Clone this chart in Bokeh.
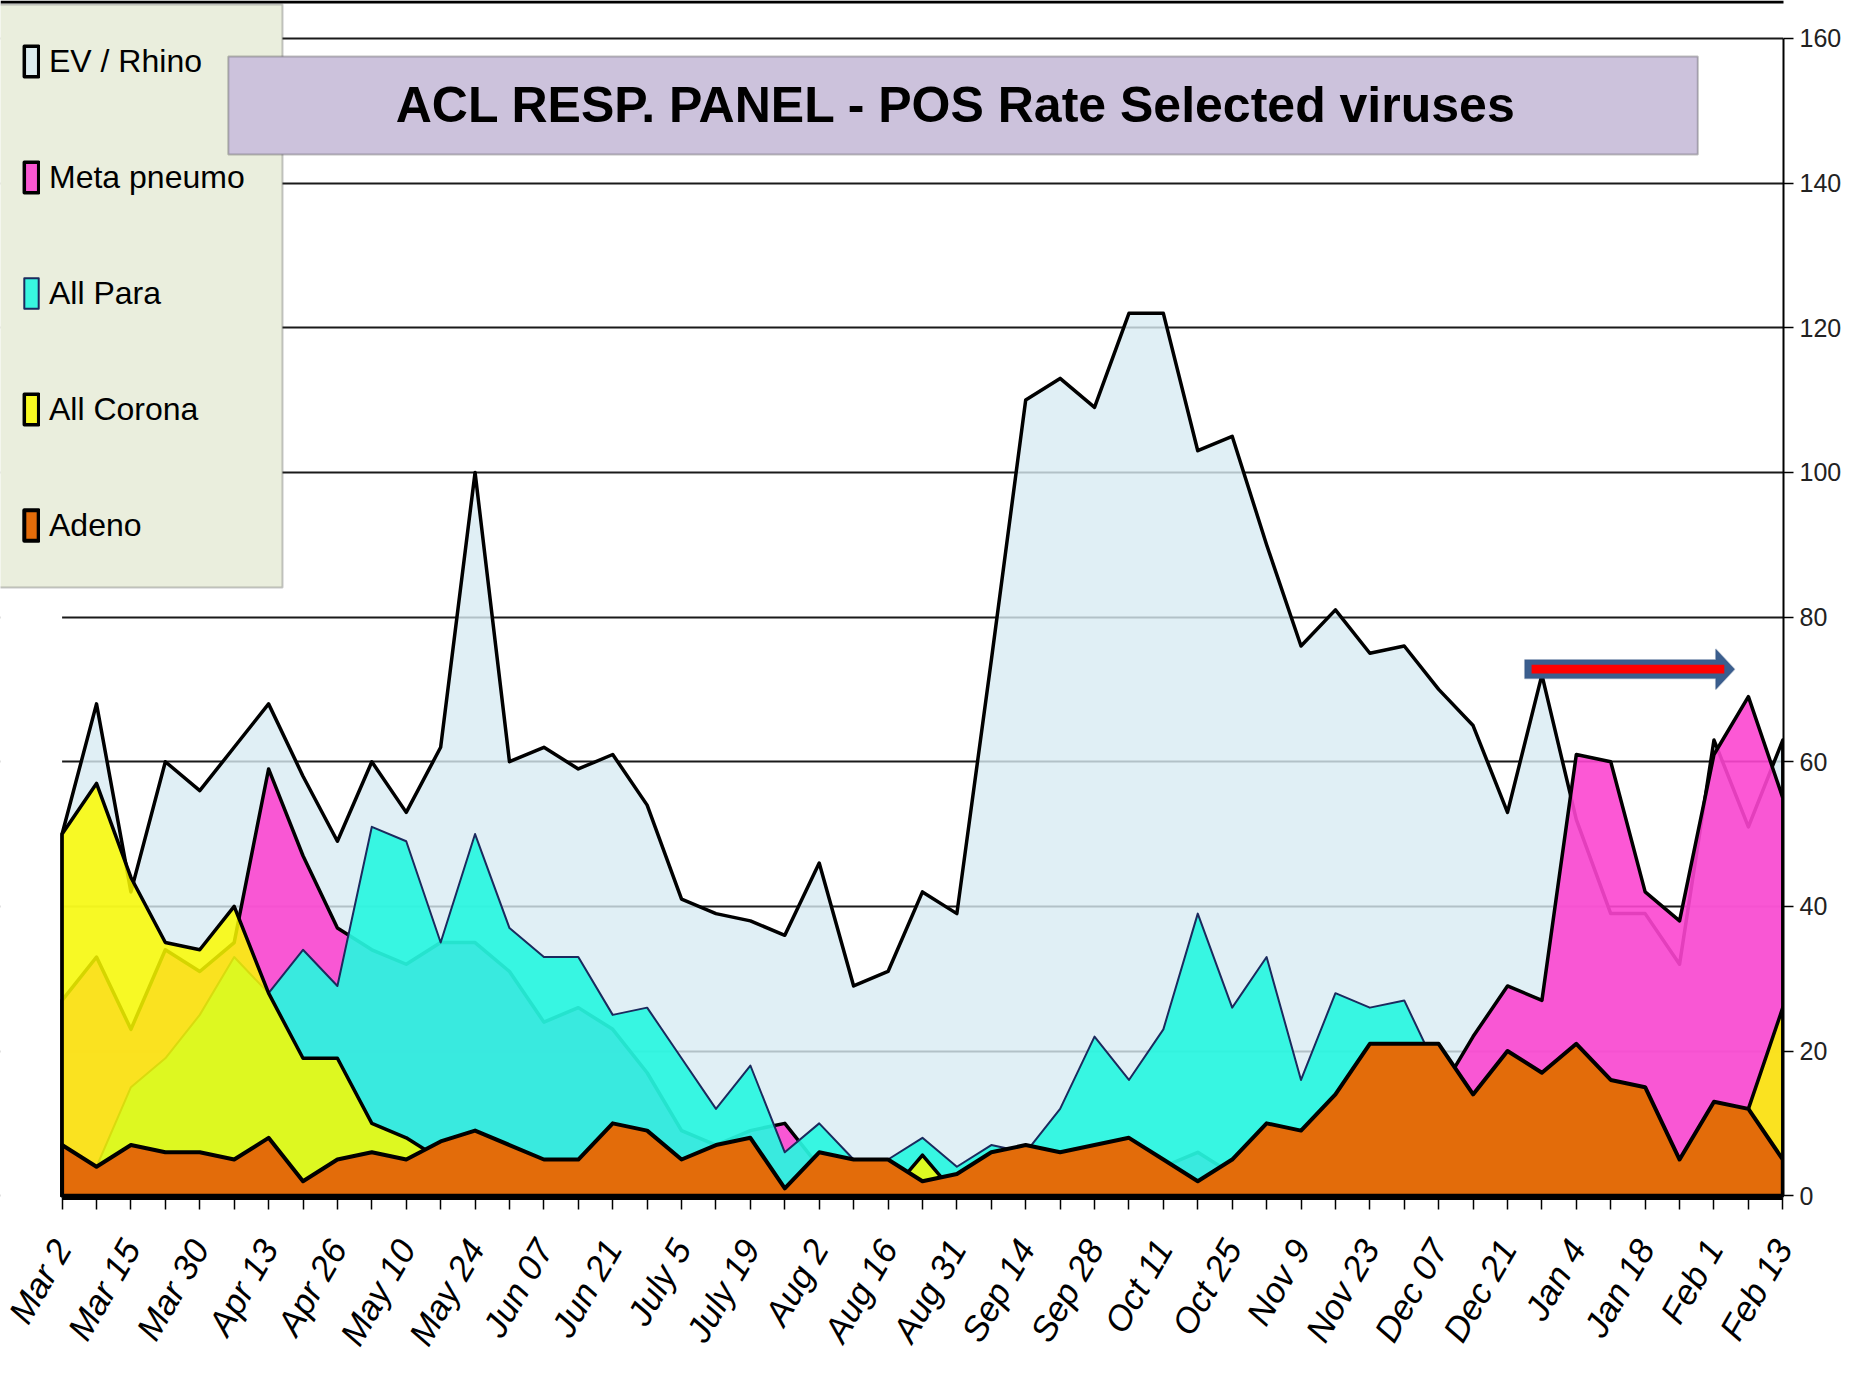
import math
from bokeh.plotting import figure
from bokeh.models import (Range1d, FixedTicker, Legend, LegendItem,
                          BoxAnnotation, Label, PolyAnnotation)
from bokeh.embed import file_html
from bokeh.resources import INLINE

SANS = "Liberation Sans"

# ---------------- data ----------------
weeks = list(range(51))
date_labels = ["Mar 2", "Mar 15", "Mar 30", "Apr 13", "Apr 26", "May 10", "May 24",
               "Jun 07", "Jun 21", "July 5", "July 19", "Aug 2", "Aug 16", "Aug 31",
               "Sep 14", "Sep 28", "Oct 11", "Oct 25", "Nov 9", "Nov 23", "Dec 07",
               "Dec 21", "Jan 4", "Jan 18", "Feb 1", "Feb 13"]
y_ticks = [0, 20, 40, 60, 80, 100, 120, 140, 160]

ev_rhino = [50, 68, 42, 60, 56, 62, 68, 58, 49, 60, 53, 62, 100, 60, 62, 59, 61,
            54, 41, 39, 38, 36, 46, 29, 31, 42, 39, 74, 110, 113, 109, 122, 122,
            103, 105, 90, 76, 81, 75, 76, 70, 65, 53, 72, 52, 39, 39, 32, 63, 51, 63]
meta_pneumo = [27, 33, 23, 34, 31, 35, 59, 47, 37, 34, 32, 35, 35, 31, 24, 26, 23,
               17, 9, 7, 9, 10, 4, 3, 3, 2, 2, 3, 4, 4, 5, 5, 4,
               6, 3, 4, 5, 6, 8, 10, 14, 22, 29, 27, 61, 60, 42, 38, 61, 69, 55]
all_para = [5, 4, 15, 19, 25, 33, 28, 34, 29, 51, 49, 35, 50, 37, 33, 33, 25,
            26, 19, 12, 18, 6, 10, 5, 5, 8, 4, 7, 6, 12, 22, 16, 23,
            39, 26, 33, 16, 28, 26, 27, 17, 10, 8, 6, 5, 4, 3, 2, 2, 2, 2]
all_corona = [50, 57, 44, 35, 34, 40, 28, 19, 19, 10, 8, 5, 0, 0, 0, 0, 0,
              0, 0, 0, 0, 0, 0, 0, 0, 5.6, 0, 0, 0, 0, 0, 0, 0,
              0, 0, 0, 0, 0, 0, 0, 0, 0, 0, 0, 0, 0, 0, 0, 0, 12, 26]
adeno = [7, 4, 7, 6, 6, 5, 8, 2, 5, 6, 5, 7.5, 9, 7, 5, 5, 10,
         9, 5, 7, 8, 1, 6, 5, 5, 2, 3, 6, 7, 6, 7, 8, 5,
         2, 5, 10, 9, 14, 21, 21, 21, 14, 20, 17, 21, 16, 15, 5, 13, 12, 5]

series_names = ["EV / Rhino", "Meta pneumo", "All Para", "All Corona", "Adeno"]
series_values = [ev_rhino, meta_pneumo, all_para, all_corona, adeno]

# ---------------- styles ----------------
styles = [
    dict(fill_color="#D8EBF3", fill_alpha=0.8, line_color="black", line_width=3.5),
    dict(fill_color="#FC46D0", fill_alpha=0.9, line_color="black", line_width=3.5),
    dict(fill_color="#28F6E0", fill_alpha=0.92, line_color="#1B2A5E", line_width=2),
    dict(fill_color="#FAFA00", fill_alpha=0.85, line_color="black", line_width=3.5),
    dict(fill_color="#E36C0A", fill_alpha=1.0, line_color="black", line_width=4),
]

p = figure(width=1844, height=1364, output_backend="svg", toolbar_location=None,
           x_range=Range1d(-1.79, 50.02), y_range=Range1d(-0.25, 165.25),
           y_axis_location="right",
           min_border_left=0, min_border_right=59, min_border_top=0,
           min_border_bottom=166, outline_line_color=None,
           background_fill_color="white", border_fill_color="white")

# grid
p.xgrid.visible = False
p.ygrid.ticker = FixedTicker(ticks=y_ticks)
p.ygrid.grid_line_color = "#1a1a1a"
p.ygrid.grid_line_width = 2

# blank out grid left of the first week
p.add_layout(BoxAnnotation(left=-10, right=weeks[0],
                           fill_color="white", fill_alpha=1.0,
                           line_alpha=0, level="underlay"))

# areas (back to front)
renderers = []
for vals, st in zip(series_values, styles):
    xs = [weeks[0]] + weeks + [weeks[-1]]
    ys = [0] + list(vals) + [0]
    r = p.patch(xs, ys, line_join="round", **st)
    renderers.append(r)

# x axis
xax = p.xaxis[0]
xax.bounds = (weeks[0], weeks[-1])
xax.ticker = FixedTicker(ticks=weeks)
overrides = {w: "" for w in weeks}
for k, lab in enumerate(date_labels):
    overrides[weeks[2 * k]] = lab
xax.major_label_overrides = overrides
xax.major_label_orientation = math.pi / 3
xax.major_label_text_font = SANS
xax.major_label_text_font_style = "italic"
xax.major_label_text_font_size = "35px"
xax.major_label_text_color = "black"
xax.major_label_standoff = 33
xax.axis_line_width = 5
xax.axis_line_color = "black"
xax.major_tick_out = 12
xax.major_tick_in = 0
xax.major_tick_line_width = 1.5
xax.major_tick_line_color = "black"
xax.minor_tick_line_color = None

# y axis (right)
yax = p.yaxis[0]
yax.bounds = (y_ticks[0], y_ticks[-1])
yax.ticker = FixedTicker(ticks=y_ticks)
yax.major_label_text_font = SANS
yax.major_label_text_font_size = "25px"
yax.major_label_text_color = "#222222"
yax.major_label_standoff = 6
yax.axis_line_width = 2
yax.axis_line_color = "black"
yax.major_tick_out = 10
yax.major_tick_in = 0
yax.major_tick_line_width = 1.5
yax.major_tick_line_color = "black"
yax.minor_tick_line_color = None

# top border line of the picture
p.add_layout(BoxAnnotation(left=0, right=1844, top=0, bottom=3,
                           left_units="canvas", right_units="canvas",
                           top_units="canvas", bottom_units="canvas",
                           fill_color="black", fill_alpha=1.0, line_alpha=0,
                           level="overlay"))

# legend background box
legend_box = BoxAnnotation(left=-2, right=282, top=4, bottom=587,
                           left_units="canvas", right_units="canvas",
                           top_units="canvas", bottom_units="canvas",
                           fill_color="#EAEEDD", fill_alpha=1.0,
                           line_color="#444444", line_width=2, level="annotation")
p.add_layout(legend_box)

legend = Legend(items=[LegendItem(label=n, renderers=[r])
                       for n, r in zip(series_names, renderers)],
                location=(22, 653), padding=0, spacing=78, margin=0,
                glyph_width=18, glyph_height=38, label_height=38,
                label_standoff=9, label_text_font=SANS,
                label_text_font_size="32px", label_text_color="black",
                background_fill_alpha=0, border_line_alpha=0)
p.add_layout(legend)

# title box
title_box = BoxAnnotation(left=4.83, right=47.53, bottom=143.97, top=157.51,
                          fill_color="#CCC2DC", fill_alpha=1.0,
                          line_color="#333333", line_width=2, level="overlay")
p.add_layout(title_box)
title = Label(x=26.18, y=150.74, text="ACL RESP. PANEL -  POS Rate Selected viruses",
              text_font=SANS, text_font_style="bold", text_font_size="50px",
              text_align="center", text_baseline="middle", text_color="black",
              level="overlay")
p.add_layout(title)

# arrow annotation
AX0, AX1, ATIP, AY = 42.5, 48.05, 48.6, 72.8
SHAFT, HEAD = 1.3, 2.8
arrow_outer = PolyAnnotation(
    xs=[AX0, AX1, AX1, ATIP, AX1, AX1, AX0],
    ys=[AY - SHAFT, AY - SHAFT, AY - HEAD, AY, AY + HEAD, AY + SHAFT, AY + SHAFT],
    fill_color="#3B5E8E", fill_alpha=1.0, line_color="#2F4F7F", line_width=1.5,
    level="overlay")
p.add_layout(arrow_outer)
arrow_inner = BoxAnnotation(left=AX0 + 0.2, right=AX1 + 0.25, bottom=AY - 0.6,
                            top=AY + 0.6, fill_color="#FF0000", fill_alpha=1.0,
                            line_alpha=0, level="overlay")
p.add_layout(arrow_inner)

open("out.html", "w").write(file_html(p, INLINE))
